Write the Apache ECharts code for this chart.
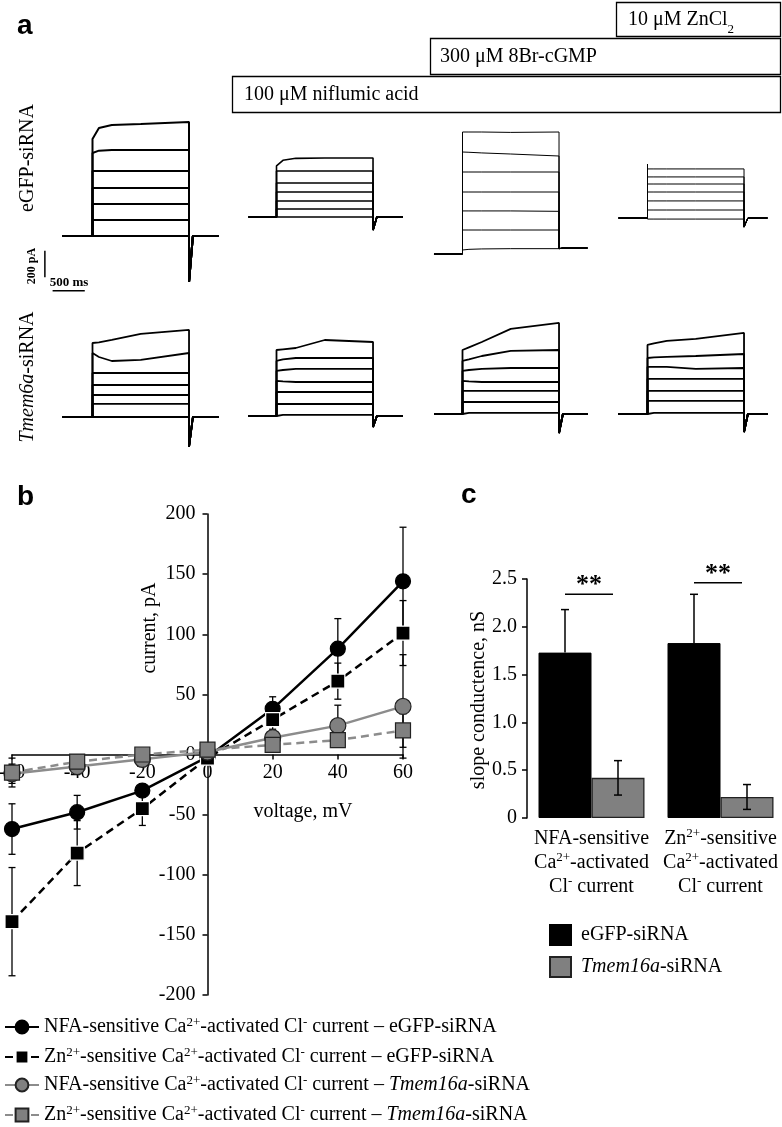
<!DOCTYPE html>
<html><head><meta charset="utf-8">
<script src="https://cdn.jsdelivr.net/npm/echarts@6/dist/echarts.min.js"></script>
<style>html,body{margin:0;padding:0;background:#fff}#c{width:782px;height:1127px}</style>
</head><body><div id="c"></div>
<script>
// ================= DATA =================
// ---- Panel a: current traces (pA) sampled at these times within the voltage step (ms)
const sampleTimes = [0, 100, 300, 750, 1500];
const stepEnd = 1500;
const tailEndTime = 1560;
const preStart = [-466, -435, -443, -451];
const postEnd = [1958, 1966, 1943, 1865];
// 7 sweeps per recording, each [t0, t100, t300, t750, t1500] in pA
const eGFPControl = [[728,810,833,840,855],[623,640,645,645,645],[488,488,488,488,488],[360,360,360,360,360],[240,240,240,240,240],[120,120,120,120,120],[0,0,0,0,0]];
const eGFPNfa     = [[383,425,440,443,443],[345,345,345,345,345],[255,255,255,255,255],[188,188,188,188,188],[120,120,120,120,120],[60,60,60,60,60],[0,0,0,0,0]];
const eGFPCgmp    = [[915,915,915,912,915],[765,763,758,750,735],[615,615,615,615,615],[465,465,465,465,465],[323,323,323,323,320],[180,180,180,180,180],[30,35,38,40,40]];
const eGFPZn      = [[368,368,368,368,368],[308,308,308,308,308],[255,255,255,255,255],[195,195,195,195,195],[128,128,128,128,128],[60,60,60,60,60],[-8,-8,-8,-8,-8]];
const tmemControl = [[555,560,578,623,653],[480,450,420,428,480],[330,330,330,330,330],[240,240,240,240,240],[165,165,165,165,165],[98,98,98,98,98],[0,0,0,0,0]];
const tmemNfa     = [[495,500,510,570,555],[413,425,435,435,435],[338,345,353,353,353],[263,260,255,255,255],[180,180,180,180,180],[90,90,90,90,90],[8,8,8,8,8]];
const tmemCgmp    = [[480,500,540,638,683],[398,410,435,473,480],[323,330,338,345,345],[248,245,240,240,240],[173,173,173,173,173],[90,90,90,90,90],[8,8,8,8,8]];
const tmemZn      = [[518,530,548,563,608],[420,425,428,435,450],[353,353,353,338,345],[263,263,263,263,263],[173,173,173,173,173],[98,98,98,98,98],[8,8,8,8,8]];
const tailEGFP = [-345, -98, 40, -68];      // tail current at step end (pA)
const tailTmem = [-225, -83, -143, -135];
const postEGFP = [0, 0, 45, 0];             // holding current after step (pA)
const postTmem = [0, 0, 0, 0];
const onsetPeakEGFP = [null, null, null, 405];
const onsetPeakTmem = [null, null, null, null];
const scaleBarV = [[-740, -110], [-740, -310]];  // 200 pA
const scaleBarH = [[-620, -410], [-120, -410]];  // 500 ms

// ---- Panel b: I-V relationship
const volt = [-60, -40, -20, 0, 20, 40, 60];
const nfaEgfp = [-62, -48, -30, -2, 38, 88, 144];
const nfaEgfpErr = [21, 14, 4, 0, 10, 25, 45];
const znEgfp = [-139, -82, -45, -3, 29, 61, 101];
const znEgfpErr = [45, 27, 14, 0, 8, 15, 27];
const nfaTmem = [-16, -10, -4, 2, 14, 24, 40];
const nfaTmemErr = [8, 6, 3, 0, 5, 17, 43];
const znTmem = [-15, -6, 0, 4, 8, 12, 20];
const znTmemErr = [12, 4, 3, 0, 4, 6, 14];
const xTicks = [-60, -40, -20, 0, 20, 40, 60];
const yTicksB = [-200, -150, -100, -50, 0, 50, 100, 150, 200];

// ---- Panel c: slope conductance
const barCats = ['NFA-sensitive Ca2+-activated Cl- current', 'Zn2+-sensitive Ca2+-activated Cl- current'];
const slopeEgfp = [1.73, 1.83];
const slopeEgfpErr = [0.45, 0.51];
const slopeTmem = [0.42, 0.22];
const slopeTmemErr = [0.18, 0.13];
const sigLevel = [2.34, 2.46];
const sigText = ['**', '**'];

// ================= LAYOUT / STYLE =================
const SERIF = '"Liberation Serif","Times New Roman",serif';
const SANS = '"Liberation Sans",Arial,sans-serif';
const msPerPx = 15.54, pAPerPx = 7.5;
const colOnX = [92.5, 276.5, 462.5, 647.5];
const rowBaseY = [[236, 217, 254, 218], [417, 416, 414, 414]];
const traceWidth = [[2, 1.6, 1, 1], [1.8, 1.8, 1.8, 1.8]];
const X0 = -1000, X1 = 2000, Y0 = -800, Y1 = 1000;

const grids = [], xAxes = [], yAxes = [], series = [];
const traceSets = [[eGFPControl, eGFPNfa, eGFPCgmp, eGFPZn], [tmemControl, tmemNfa, tmemCgmp, tmemZn]];
const tails = [tailEGFP, tailTmem], posts = [postEGFP, postTmem], peaks = [onsetPeakEGFP, onsetPeakTmem];

for (let r = 0; r < 2; r++) {
  for (let c = 0; c < 4; c++) {
    const gi = grids.length;
    grids.push({left: colOnX[c] - (0 - X0) / msPerPx, top: rowBaseY[r][c] - Y1 / pAPerPx,
      width: (X1 - X0) / msPerPx, height: (Y1 - Y0) / pAPerPx, containLabel: false, outerBoundsMode: 'none'});
    xAxes.push({gridIndex: gi, type: 'value', min: X0, max: X1, show: false});
    yAxes.push({gridIndex: gi, type: 'value', min: Y0, max: Y1, show: false});
    traceSets[r][c].forEach(lv => {
      const d = [[preStart[c], 0], [0, 0]];
      if (peaks[r][c] != null) d.push([0, peaks[r][c]]);
      sampleTimes.forEach((t, j) => d.push([t, lv[j]]));
      d.push([stepEnd, tails[r][c]]);
      d.push([tailEndTime, posts[r][c]]);
      d.push([postEnd[c], posts[r][c]]);
      series.push({type: 'line', xAxisIndex: gi, yAxisIndex: gi, data: d, symbol: 'none', showSymbol: false,
        silent: true, smooth: false, lineStyle: {color: '#000', width: traceWidth[r][c]}, z: 2});
    });
    if (r === 0 && c === 0) {
      [scaleBarV, scaleBarH].forEach(sb => series.push({type: 'line', xAxisIndex: gi, yAxisIndex: gi, data: sb,
        symbol: 'none', silent: true, clip: false, lineStyle: {color: '#000', width: 1.5}}));
    }
  }
}

// ---- Panel b grid (axes cross at 0,0)
const gB = grids.length;
const gbBox = {left: 12, top: 514, width: 391, height: 481};
grids.push(Object.assign({containLabel: false, outerBoundsMode: 'none'}, gbBox));
const xMinB = xTicks[0], xMaxB = xTicks[xTicks.length - 1];
const yMinB = yTicksB[0], yMaxB = yTicksB[yTicksB.length - 1];
const axLine = {show: true, onZero: false, lineStyle: {color: '#000', width: 1.5}};
const axTick = {show: true, length: 5, lineStyle: {color: '#000', width: 1.5}};
xAxes.push({gridIndex: gB, type: 'value', min: xMinB, max: xMaxB, interval: 20, position: 'bottom',
  offset: -gbBox.height * (0 - yMinB) / (yMaxB - yMinB),
  axisLine: axLine, axisTick: axTick, splitLine: {show: false},
  axisLabel: {color: '#000', fontFamily: SERIF, fontSize: 20, margin: 8, hideOverlap: false}});
yAxes.push({gridIndex: gB, type: 'value', min: yMinB, max: yMaxB, show: false});
// separate grid whose left edge is at voltage 0, carrying the current axis
const zeroX = gbBox.left + gbBox.width * (0 - xMinB) / (xMaxB - xMinB);
const gBy = grids.length;
grids.push({left: zeroX, top: gbBox.top, width: gbBox.left + gbBox.width - zeroX, height: gbBox.height, containLabel: false, outerBoundsMode: 'none'});
xAxes.push({gridIndex: gBy, type: 'value', min: 0, max: xMaxB, show: false});
yAxes.push({gridIndex: gBy, type: 'value', min: yMinB, max: yMaxB, interval: 50, position: 'left',
  axisLine: axLine, axisTick: axTick, splitLine: {show: false},
  axisLabel: {color: '#000', fontFamily: SERIF, fontSize: 20, margin: 12, hideOverlap: false, showMinLabel: true, showMaxLabel: true}});

function ivErr(vals, errs) {
  return {type: 'custom', xAxisIndex: gB, yAxisIndex: gB, z: 1, silent: true,
    data: volt.map((v, i) => [v, vals[i], errs[i]]),
    renderItem: (p, api) => {
      const x = api.value(0), y = api.value(1), e = api.value(2);
      if (!e) return null;
      const t = api.coord([x, y + e]), b = api.coord([x, y - e]), w = 3.5;
      const st = {stroke: '#000', lineWidth: 1.3};
      return {type: 'group', children: [
        {type: 'line', shape: {x1: t[0], y1: t[1], x2: b[0], y2: b[1]}, style: st},
        {type: 'line', shape: {x1: t[0] - w, y1: t[1], x2: t[0] + w, y2: t[1]}, style: st},
        {type: 'line', shape: {x1: b[0] - w, y1: b[1], x2: b[0] + w, y2: b[1]}, style: st}]};
    }};
}
const ivDefs = [
  {name: 'nfaE', v: nfaEgfp, e: nfaEgfpErr, sym: 'circle', size: 15, fill: '#000', border: '#000', line: '#000', type: 'solid'},
  {name: 'znE', v: znEgfp, e: znEgfpErr, sym: 'rect', size: 14, fill: '#000', border: '#fff', line: '#000', type: [8, 5]},
  {name: 'nfaT', v: nfaTmem, e: nfaTmemErr, sym: 'circle', size: 16, fill: '#808080', border: '#222', line: '#8c8c8c', type: 'solid'},
  {name: 'znT', v: znTmem, e: znTmemErr, sym: 'rect', size: 15, fill: '#808080', border: '#222', line: '#8c8c8c', type: [8, 5]}
];
ivDefs.forEach(s => series.push(ivErr(s.v, s.e)));
ivDefs.forEach((s, i) => series.push({type: 'line', name: s.name, xAxisIndex: gB, yAxisIndex: gB, z: 3 + i,
  data: volt.map((v, k) => [v, s.v[k]]), symbol: s.sym, symbolSize: s.size, showSymbol: true,
  lineStyle: {color: s.line, width: 2.5, type: s.type},
  itemStyle: {color: s.fill, borderColor: s.border, borderWidth: 1.2}}));

const legendRich = {
  sup: {fontSize: 13, lineHeight: 13, verticalAlign: 'top', fontFamily: SERIF, color: '#000'},
  it: {fontStyle: 'italic', fontSize: 20, lineHeight: 22, fontFamily: SERIF, color: '#000'}
};
const legendLabels = {
  nfaE: 'NFA-sensitive Ca{sup|2+}-activated Cl{sup|-} current – eGFP-siRNA',
  znE: 'Zn{sup|2+}-sensitive Ca{sup|2+}-activated Cl{sup|-} current – eGFP-siRNA',
  nfaT: 'NFA-sensitive Ca{sup|2+}-activated Cl{sup|-} current – {it|Tmem16a}-siRNA',
  znT: 'Zn{sup|2+}-sensitive Ca{sup|2+}-activated Cl{sup|-} current – {it|Tmem16a}-siRNA',
  'eGFP-siRNA': 'eGFP-siRNA',
  'Tmem16a-siRNA': '{it|Tmem16a}-siRNA'
};
const legendTops = [1016, 1046, 1074, 1104];
const legends = ivDefs.map((s, i) => ({data: [s.name], left: 4, top: legendTops[i], padding: 0,
  itemWidth: 34, itemHeight: 16, itemGap: 10, selectedMode: false,
  formatter: n => legendLabels[n],
  textStyle: {fontFamily: SERIF, fontSize: 20, lineHeight: 22, color: '#000', rich: legendRich}}));

// ---- Panel c grid
const gC = grids.length;
grids.push({left: 527, top: 579, width: 258, height: 239, containLabel: false, outerBoundsMode: 'none'});
const barLabelRich = [
  'NFA-sensitive\nCa{sup|2+}-activated\nCl{sup|-} current',
  'Zn{sup|2+}-sensitive\nCa{sup|2+}-activated\nCl{sup|-} current'
];
xAxes.push({gridIndex: gC, type: 'category', data: barCats, axisLine: {show: false}, axisTick: {show: false},
  axisLabel: {interval: 0, color: '#000', fontFamily: SERIF, fontSize: 20, lineHeight: 24, margin: 9,
    formatter: v => barLabelRich[barCats.indexOf(v)], rich: {sup: {fontSize: 13, lineHeight: 13, verticalAlign: 'top', fontFamily: SERIF, color: '#000'}}}});
yAxes.push({gridIndex: gC, type: 'value', min: 0, max: 2.5, interval: 0.5,
  axisLine: {show: true, lineStyle: {color: '#000', width: 1.5}}, axisTick: axTick, splitLine: {show: false},
  axisLabel: {color: '#000', fontFamily: SERIF, fontSize: 20, margin: 10, formatter: v => v === 0 ? '0' : v.toFixed(1)}});
const BW = 53;
series.push({type: 'bar', name: 'eGFP-siRNA', xAxisIndex: gC, yAxisIndex: gC, data: slopeEgfp, barWidth: BW, barGap: '0%',
  itemStyle: {color: '#000', borderColor: '#000', borderWidth: 1}, z: 2});
series.push({type: 'bar', name: 'Tmem16a-siRNA', xAxisIndex: gC, yAxisIndex: gC, data: slopeTmem, barWidth: BW, barGap: '0%',
  itemStyle: {color: '#808080', borderColor: '#222', borderWidth: 1.3}, z: 2});
function barErr(vals, errs, off, both) {
  return {type: 'custom', xAxisIndex: gC, yAxisIndex: gC, z: 4, silent: true,
    data: vals.map((v, i) => [i, v, errs[i]]),
    renderItem: (p, api) => {
      const i = api.value(0), v = api.value(1), e = api.value(2);
      const c = api.coord([i, v]), t = api.coord([i, v + e]), b = both ? api.coord([i, v - e]) : c;
      const x = c[0] + off, w = 4, st = {stroke: '#000', lineWidth: 1.5};
      const ch = [{type: 'line', shape: {x1: x, y1: t[1], x2: x, y2: b[1]}, style: st},
        {type: 'line', shape: {x1: x - w, y1: t[1], x2: x + w, y2: t[1]}, style: st}];
      if (both) ch.push({type: 'line', shape: {x1: x - w, y1: b[1], x2: x + w, y2: b[1]}, style: st});
      return {type: 'group', children: ch};
    }};
}
series.push(barErr(slopeEgfp, slopeEgfpErr, -BW / 2, false));
series.push(barErr(slopeTmem, slopeTmemErr, BW / 2, true));
series.push({type: 'custom', xAxisIndex: gC, yAxisIndex: gC, z: 5, silent: true,
  data: sigLevel.map((v, i) => [i, v]),
  renderItem: (p, api) => {
    const c = api.coord([api.value(0), api.value(1)]);
    const x1 = c[0] - BW / 2, x2 = c[0] + BW / 2 - 5;
    return {type: 'group', children: [
      {type: 'line', shape: {x1: x1, y1: c[1], x2: x2, y2: c[1]}, style: {stroke: '#000', lineWidth: 1.5}},
      {type: 'text', style: {text: sigText[p.dataIndex], x: (x1 + x2) / 2, y: c[1] + 4, align: 'center', verticalAlign: 'bottom',
        font: 'bold 26px ' + SERIF, fill: '#000'}}]};
  }});
['eGFP-siRNA', 'Tmem16a-siRNA'].forEach((n, i) => legends.push({data: [n], left: 549, top: [924, 956][i], padding: 0,
  itemWidth: 21, itemHeight: 20, icon: 'rect', selectedMode: false, formatter: nm => legendLabels[nm],
  textStyle: {fontFamily: SERIF, fontSize: 20, lineHeight: 22, color: '#000', padding: [0, 0, 0, 5], rich: legendRich}}));

// ---- annotations
const txt = (text, x, y, opts) => Object.assign({type: 'text', x: x, y: y, silent: true,
  style: Object.assign({text: text, fill: '#000', font: '20px ' + SERIF, align: 'left', verticalAlign: 'middle'}, opts && opts.style || {})},
  opts && opts.el || {});
const box = (x, y, w, h) => ({type: 'rect', shape: {x: x, y: y, width: w, height: h}, silent: true,
  style: {fill: 'none', stroke: '#000', lineWidth: 1.3}});
const graphic = [
  txt('a', 17, 26, {style: {font: 'bold 28px ' + SANS}}),
  txt('b', 17, 497, {style: {font: 'bold 28px ' + SANS}}),
  txt('c', 461, 495, {style: {font: 'bold 28px ' + SANS}}),
  box(616.5, 2.5, 164, 34), box(430.5, 38.5, 350, 36), box(232.5, 76.5, 548, 36),
  txt('10 μM ZnCl{sub|2}', 628, 20, {style: {rich: {sub: {font: '13px ' + SERIF, fill: '#000', verticalAlign: 'bottom', lineHeight: 13, padding: [0, 0, -6, 0]}}}}),
  txt('300 μM 8Br-cGMP', 440, 57),
  txt('100 μM niflumic acid', 244, 95),
  txt('eGFP-siRNA', 28, 158, {style: {align: 'center'}, el: {rotation: Math.PI / 2}}),
  txt('{i|Tmem6a}-siRNA', 28, 377, {style: {align: 'center', rich: {i: {font: 'italic 20px ' + SERIF, fill: '#000'}}}, el: {rotation: Math.PI / 2}}),
  txt('200 pA', 32, 266, {style: {align: 'center', font: 'bold 12px ' + SERIF}, el: {rotation: Math.PI / 2}}),
  txt('500 ms', 69, 283, {style: {align: 'center', font: 'bold 13px ' + SERIF}}),
  txt('current, pA', 150, 628, {style: {align: 'center'}, el: {rotation: Math.PI / 2}}),
  txt('voltage, mV', 303, 812, {style: {align: 'center'}}),
  txt('slope conductence, nS', 479, 700, {style: {align: 'center'}, el: {rotation: Math.PI / 2}})
];

const chart = echarts.init(document.getElementById('c'), null, {renderer: 'canvas', width: 782, height: 1127});
chart.setOption({
  animation: false, backgroundColor: '#fff',
  grid: grids, xAxis: xAxes, yAxis: yAxes, series: series, legend: legends, graphic: graphic
});
</script></body></html>
